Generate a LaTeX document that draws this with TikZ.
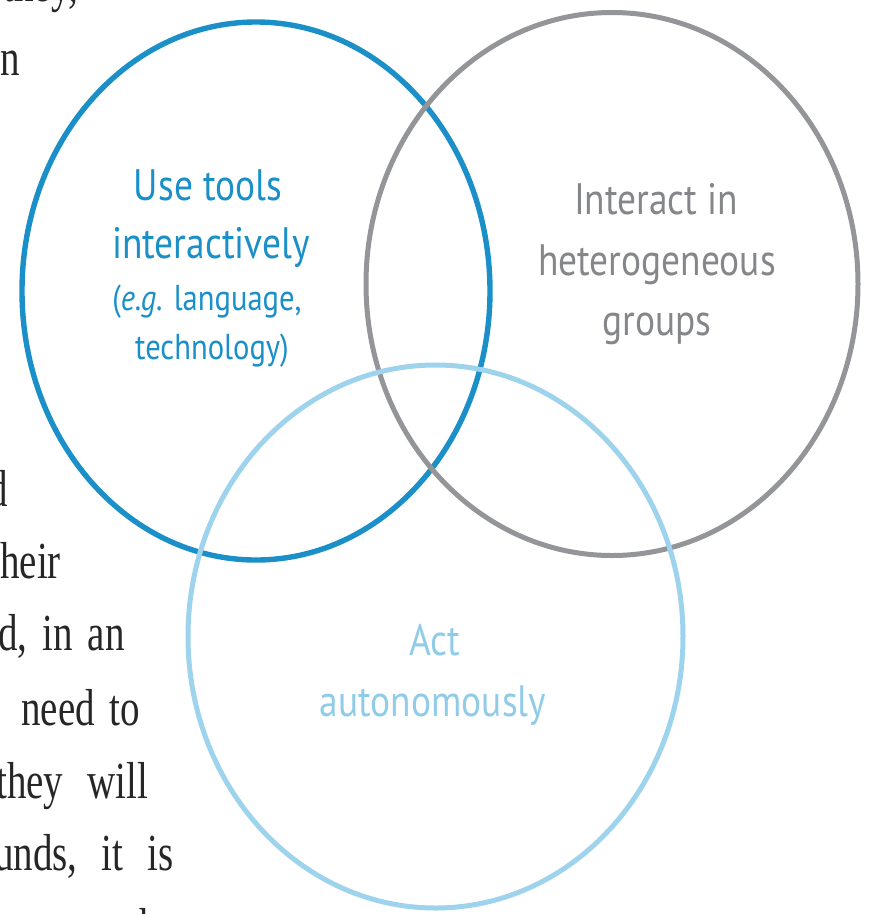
\documentclass[tikz,border=0pt]{standalone}
\usepackage{fontspec}
\usetikzlibrary{shapes.geometric}
\newfontfamily\labelfont[FakeStretch=0.85]{PT Sans}
\newfontfamily\pagefont[FakeStretch=0.75]{Liberation Serif}
\definecolor{toolsblue}{HTML}{1A8FC8}
\definecolor{groupgray}{HTML}{939598}
\definecolor{autoblue}{HTML}{9DD3EC}
\definecolor{pageink}{HTML}{262626}
\newcommand{\gap}{\hspace{15pt}}
\tikzset{
  ring/.style={draw, ellipse, inner sep=0pt, line width=5.4pt},
  biglabel/.style={font=\labelfont\fontsize{44}{44}\selectfont, inner sep=0pt, anchor=base},
  smalllabel/.style={font=\labelfont\fontsize{36}{36}\selectfont, inner sep=0pt, anchor=base},
  pagetext/.style={font=\pagefont\fontsize{52}{52}\selectfont, text=pageink, inner sep=0pt, anchor=base west},
}
\begin{document}
\begin{tikzpicture}[x=1pt,y=-1pt]
\useasboundingbox (0,0) rectangle (870,914);
\clip (0,0) rectangle (870,914);

% running text of the page, cut off by the left edge
\node[pagetext, anchor=base east] (p0) at (78,1) {they,};
\node[pagetext] (p1) at (0,75) {n};
\node[pagetext, anchor=base east] (p2) at (8,506) {d};
\node[pagetext] (p3) at (0,578) {heir};
\node[pagetext] (p4) at (-2,650) {d,\gap in\gap an};
\node[pagetext] (p5) at (21,725) {need\gap to};
\node[pagetext] (p6) at (-4,798) {they\hspace{24pt}will};
\node[pagetext] (p7) at (-6,870) {unds,\hspace{24pt}it\hspace{24pt}is};
\node[pagetext] (p8) at (128,944) {that};

% the three competency circles
\node[ring, draw=toolsblue, minimum width=468pt, minimum height=538pt] (tools) at (256,291) {};
\node[ring, draw=groupgray, line width=5pt, minimum width=492pt, minimum height=543pt] (groups) at (612,284) {};
\node[ring, draw=autoblue, line width=5pt, minimum width=495pt, minimum height=543pt] (auto) at (435.5,636.5) {};

% labels
\node[biglabel, text=toolsblue] (t1) at (208,200) {Use tools};
\node[biglabel, text=toolsblue] (t2) at (211,258) {interactively};
\node[smalllabel, text=toolsblue] (t3) at (207,310) {(\textit{e.g.} language,};
\node[smalllabel, text=toolsblue] (t4) at (212,359) {technology)};

\node[biglabel, text=groupgray!90!black] (g1) at (656,214) {Interact in};
\node[biglabel, text=groupgray!90!black] (g2) at (657,275) {heterogeneous};
\node[biglabel, text=groupgray!90!black] (g3) at (657,335) {groups};

\node[biglabel, text=autoblue!90!toolsblue] (a1) at (435,655) {Act};
\node[biglabel, text=autoblue!90!toolsblue] (a2) at (433,716) {autonomously};
\end{tikzpicture}
\end{document}
